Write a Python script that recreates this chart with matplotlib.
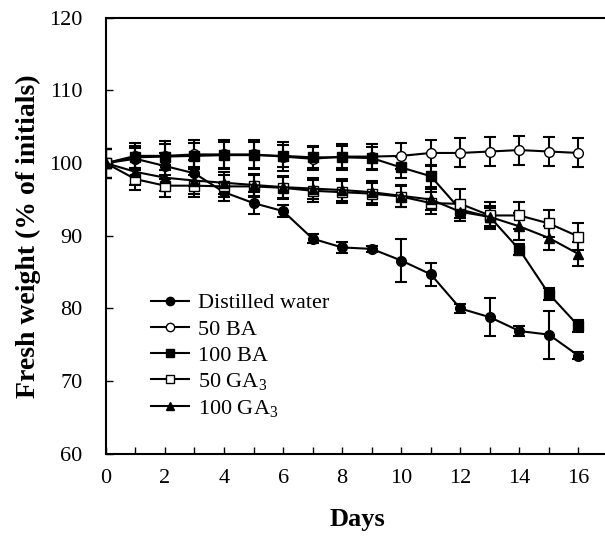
import numpy as np
import matplotlib
matplotlib.use('Agg')
import matplotlib.pyplot as plt
from matplotlib.ticker import MultipleLocator
from matplotlib.lines import Line2D

plt.rcParams['font.family'] = ['Liberation Serif', 'DejaVu Serif']
plt.rcParams['mathtext.fontset'] = 'custom'
plt.rcParams['mathtext.rm'] = 'Liberation Serif'
plt.rcParams['mathtext.it'] = 'Liberation Serif:italic'

# Data (fresh weight, % of initial)
days = np.arange(0, 17)

water = [100, 100.6, 99.6, 98.6, 96.0, 94.5, 93.4, 89.6, 88.4, 88.2, 86.6, 84.7, 80.0, 78.8, 76.9, 76.4, 73.5]
water_err = [2.0, 1.5, 1.8, 1.8, 1.2, 1.5, 0.8, 0.6, 0.8, 0.4, 3.0, 1.6, 0.6, 2.6, 0.7, 3.3, 0.5]

ba50 = [100, 101.0, 101.0, 101.2, 101.2, 101.2, 100.9, 100.6, 100.9, 100.9, 101.0, 101.4, 101.4, 101.6, 101.8, 101.6, 101.4]
ba50_err = [2.0, 1.8, 2.0, 2.0, 2.0, 2.0, 2.0, 1.6, 1.8, 1.8, 1.8, 1.8, 2.0, 2.0, 2.0, 2.0, 2.0]

ba100 = [100, 100.8, 100.9, 101.0, 101.1, 101.1, 101.0, 100.8, 100.8, 100.7, 99.4, 98.2, 93.6, 92.6, 88.1, 82.0, 77.6]
ba100_err = [2.0, 1.5, 1.8, 1.8, 1.8, 1.8, 1.5, 1.5, 1.5, 1.5, 1.5, 1.5, 1.2, 1.2, 0.8, 0.8, 0.8]

ga50 = [100, 97.8, 96.9, 96.9, 96.8, 96.8, 96.6, 96.2, 96.0, 95.8, 95.4, 94.5, 94.4, 92.8, 92.8, 91.7, 89.9]
ga50_err = [2.0, 1.5, 1.5, 1.5, 1.5, 1.5, 1.5, 1.5, 1.5, 1.5, 1.5, 1.5, 2.0, 1.8, 1.8, 1.9, 1.8]

ga100 = [100, 98.8, 98.0, 97.6, 97.3, 97.0, 96.7, 96.5, 96.3, 96.0, 95.5, 95.0, 93.3, 92.6, 91.3, 89.7, 87.5]
ga100_err = [2.0, 1.8, 1.8, 1.8, 1.5, 1.5, 1.5, 1.5, 1.5, 1.5, 1.5, 1.5, 1.2, 1.5, 1.9, 1.7, 1.7]

series = [
    ('Distilled water', water, water_err, 'o', 'black'),
    ('50 BA', ba50, ba50_err, 'o', 'white'),
    ('100 BA', ba100, ba100_err, 's', 'black'),
    ('50 GA$_3$', ga50, ga50_err, 's', 'white'),
    ('100 GA$_3$', ga100, ga100_err, '^', 'black'),
]

fig = plt.figure(figsize=(6.05, 5.39), dpi=100)
ax = fig.add_axes([0.175, 0.158, 0.83, 0.809])

handles = []
for label, y, err, mk, fc in series:
    ax.errorbar(days, y, yerr=err, color='black', marker=mk, markerfacecolor=fc,
                markeredgecolor='black', markersize=7, linewidth=1.5,
                elinewidth=1.5, capsize=4, capthick=1.5)
    handles.append(Line2D([], [], color='black', marker=mk, markerfacecolor=fc,
                          markeredgecolor='black', markersize=6, linewidth=1.5,
                          label=label))

ax.set_xlim(0, 17)
ax.set_ylim(60, 120)
ax.xaxis.set_major_locator(MultipleLocator(2))
ax.xaxis.set_minor_locator(MultipleLocator(1))
ax.yaxis.set_major_locator(MultipleLocator(10))
ax.tick_params(which='both', direction='in', length=5, width=1, labelsize=16)
ax.tick_params(axis='x', pad=11)
ax.tick_params(axis='y', pad=17)
for sp in ax.spines.values():
    sp.set_linewidth(1.5)

ax.set_xlabel('Days', fontsize=19, fontweight='bold', labelpad=14)
ax.set_ylabel('Fresh weight (% of initials)', fontsize=20, fontweight='bold', labelpad=6)

ax.legend(handles=handles, loc='lower left', bbox_to_anchor=(0.072, 0.06), frameon=False,
          fontsize=16, handlelength=1.7, handletextpad=0.4, labelspacing=0.25,
          borderaxespad=0)

fig.savefig('out.png', dpi=100)
